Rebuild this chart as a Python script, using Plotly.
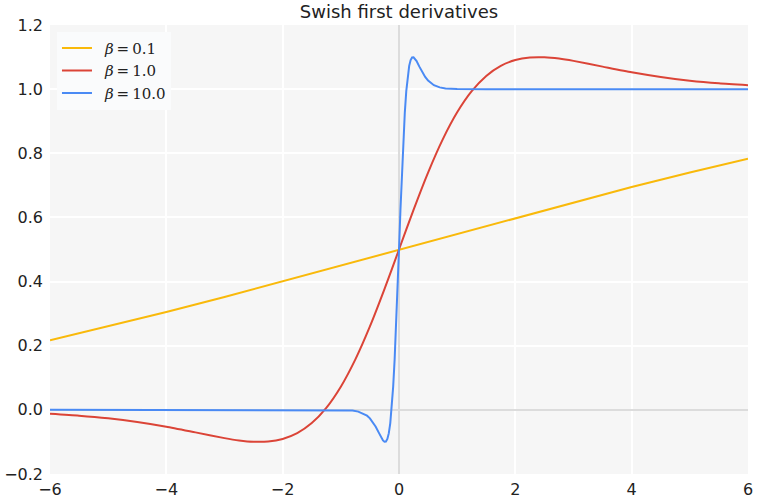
import plotly.graph_objects as go

# beta = 0.1
x_b01 = [-6, -5, -4, -3, -2, -1, 0, 1, 2, 3, 4, 5, 6]
y_b01 = [0.217, 0.260, 0.305, 0.352, 0.401, 0.450, 0.500, 0.550, 0.599, 0.648, 0.695, 0.740, 0.783]

# beta = 1.0
x_b1 = [-6, -5.5, -5, -4.5, -4, -3.5, -3, -2.75, -2.5, -2.25, -2, -1.75, -1.5, -1.25, -1, -0.75, -0.5, -0.25,
        0, 0.25, 0.5, 0.75, 1, 1.25, 1.5, 1.75, 2, 2.25, 2.5, 2.75, 3, 3.5, 4, 4.5, 5, 5.5, 6]
y_b1 = [-0.0123, -0.0182, -0.0265, -0.0380, -0.0527, -0.0702, -0.0881, -0.0953, -0.0994, -0.0987, -0.0908,
        -0.0727, -0.0413, 0.0063, 0.0723, 0.1574, 0.2600, 0.3763,
        0.5, 0.6237, 0.7400, 0.8426, 0.9277, 0.9937, 1.0413, 1.0727, 1.0908, 1.0987, 1.0994, 1.0953,
        1.0881, 1.0702, 1.0527, 1.0380, 1.0265, 1.0182, 1.0123]

# beta = 10.0
x_b10 = [-6, -1.5, -1.0, -0.8, -0.7, -0.6, -0.55, -0.5, -0.45, -0.4, -0.35, -0.3,
         -0.275, -0.25, -0.225, -0.2, -0.175, -0.15, -0.125, -0.1, -0.075, -0.05, -0.025,
         0, 0.025, 0.05, 0.075, 0.1, 0.125, 0.15, 0.175, 0.2, 0.225, 0.25, 0.275,
         0.3, 0.35, 0.4, 0.45, 0.5, 0.55, 0.6, 0.7, 0.8, 1.0, 1.5, 6]
y_b10 = [0.0, 0.0, -0.0005, -0.0023, -0.0055, -0.0123, -0.0182, -0.0265, -0.0380, -0.0527, -0.0702, -0.0881,
         -0.0953, -0.0994, -0.0987, -0.0908, -0.0727, -0.0413, 0.0063, 0.0723, 0.1574, 0.2600, 0.3763,
         0.5, 0.6237, 0.7400, 0.8426, 0.9277, 0.9937, 1.0413, 1.0727, 1.0908, 1.0987, 1.0994, 1.0953,
         1.0881, 1.0702, 1.0527, 1.0380, 1.0265, 1.0182, 1.0123, 1.0055, 1.0023, 1.0005, 1.0, 1.0]

names = ["\u2004\u2009<i>β</i>\u2009=\u20090.1", "\u2004\u2009<i>β</i>\u2009=\u20091.0",
         "\u2004\u2009<i>β</i>\u2009=\u200910.0"]
colors = ["#F9B90A", "#DB4437", "#4A8AF4"]

fig = go.Figure()
fig.add_trace(go.Scatter(x=x_b01, y=y_b01, mode="lines", name=names[0],
                         line=dict(color=colors[0], width=2)))
fig.add_trace(go.Scatter(x=x_b1, y=y_b1, mode="lines", name=names[1],
                         line=dict(color=colors[1], width=2, shape="spline", smoothing=0.6)))
fig.add_trace(go.Scatter(x=x_b10, y=y_b10, mode="lines", name=names[2],
                         line=dict(color=colors[2], width=2)))

axis_common = dict(
    showgrid=True, gridcolor="#ffffff", gridwidth=1.5,
    zeroline=True, zerolinecolor="#dcdcdc", zerolinewidth=2,
    showline=False, ticks="", automargin=False,
    tickfont=dict(family="DejaVu Sans", size=16, color="#222222"),
)

fig.update_layout(
    width=761, height=503,
    margin=dict(l=50, r=13, t=25, b=29),
    paper_bgcolor="#ffffff", plot_bgcolor="#f6f6f6",
    title=dict(text="Swish first derivatives", x=0.5, xref="paper", xanchor="center",
               y=0.99, yref="container", yanchor="top",
               font=dict(family="DejaVu Sans", size=18, color="#222222")),
    xaxis=dict(range=[-6, 6], dtick=2, tickformat="d", ticklabelstandoff=4, **axis_common),
    yaxis=dict(range=[-0.2, 1.2], dtick=0.2, tickformat=".1f", ticklabelstandoff=6, **axis_common),
    legend=dict(x=0.01, y=0.985, xanchor="left", yanchor="top",
                bgcolor="#fafbfc", borderwidth=0,
                font=dict(family="DejaVu Serif", size=15, color="#222222")),
    showlegend=True,
)

fig.write_html("out.html", config={"displayModeBar": False},
               post_script="document.body.style.margin='0';document.body.style.padding='0';")
